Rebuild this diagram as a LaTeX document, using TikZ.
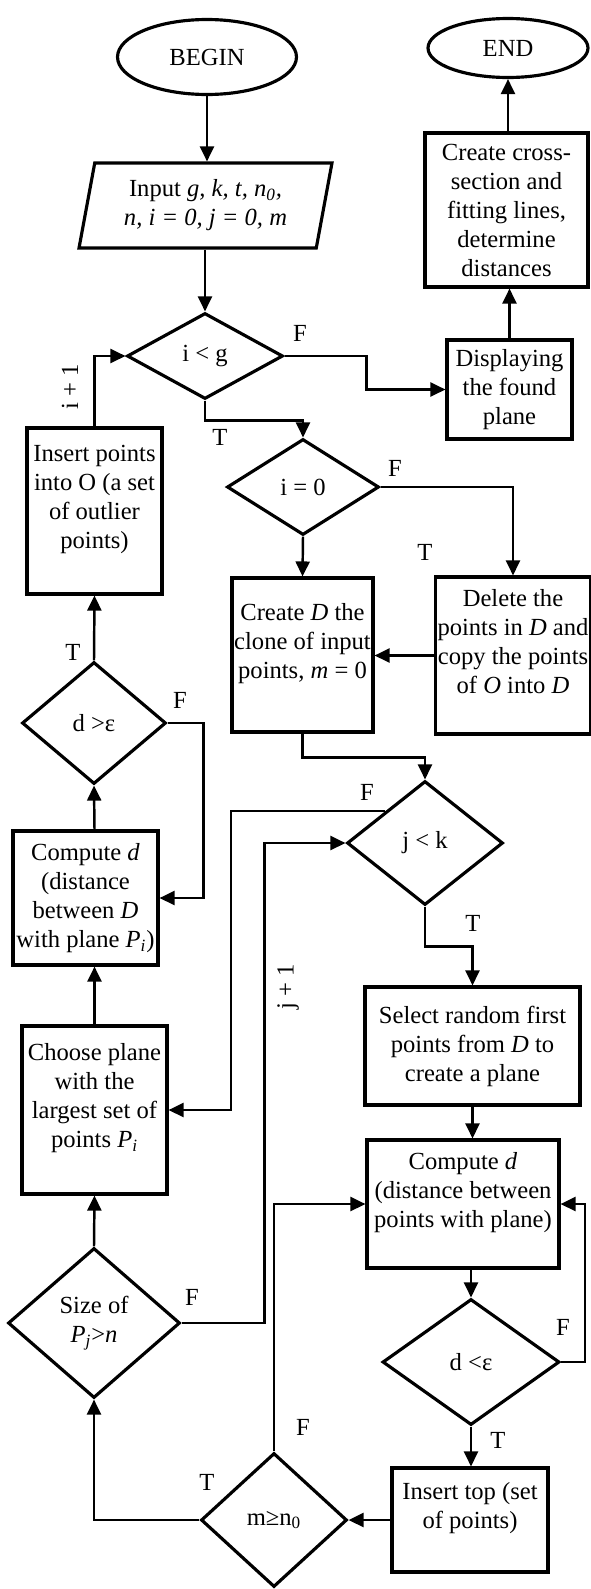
\documentclass[tikz,border=0pt]{standalone}
\usepackage{fontspec}
\setmainfont{Liberation Serif}
\usetikzlibrary{arrows.meta, positioning, shapes.geometric, calc}

\begin{document}
\begin{tikzpicture}[
    x=0.02cm, y=-0.02cm,
    font=\fontsize{14}{16.5}\selectfont,
    >={Triangle[length=0.3cm,width=0.28cm]},
    block/.style={
        rectangle,
        draw=black,
        line width=1.8pt,
        align=center,
        inner sep=1pt
    },
    decision/.style={
        diamond,
        draw=black,
        line width=1.8pt,
        align=center,
        inner sep=0pt,
        aspect=1.5
    },
    terminal/.style={
        ellipse,
        draw=black,
        line width=1.8pt
    },
    flow/.style={->, line width=1.4pt},
    lbl/.style={inner sep=0pt}
]
\useasboundingbox (0,0) rectangle (591,1589);

% Start, input and end
\node[terminal, minimum width=3.58cm, minimum height=1.5cm] (begin) at (207,57) {BEGIN};
\node[terminal, minimum width=3.2cm, minimum height=1.18cm] (stop) at (508,48) {END};
\node[trapezium, trapezium left angle=76, trapezium right angle=104, trapezium stretches body,
      draw=black, line width=1.8pt, align=center, minimum width=5.06cm, minimum height=1.7cm]
      (input) at (205.5,205.5) {Input \textit{g, k, t, n\textsubscript{0},}\\\textit{n, i = 0, j = 0, m}};

% Outer loop over i
\node[decision, minimum width=3.12cm, minimum height=1.72cm] (ilg) at (205,356) {i < g};
\node[block, minimum width=2.5cm, minimum height=1.98cm] (show) at (509.5,389.5) {Displaying\\the found\\plane};
\node[block, minimum width=3.26cm, minimum height=3.08cm] (cross) at (506.5,210) {Create cross-\\section and\\fitting lines,\\determine\\distances};
\node[decision, minimum width=3.04cm, minimum height=1.92cm] (iz) at (303,487) {i = 0};
\node[block, minimum width=2.7cm, minimum height=3.32cm] (outl) at (94.5,511) {Insert points\\into O (a set\\of outlier\\points)\\~};
\node[block, minimum width=2.82cm, minimum height=3.08cm] (clone) at (302.5,655) {Create \textit{D} the\\clone of input\\points, \textit{m} = 0\\~};
\node[block, minimum width=3cm, minimum height=3.14cm] (del) at (513,655.5) {Delete the\\points in \textit{D} and\\copy the points\\of \textit{O} into \textit{D}\\~};
\node[decision, minimum width=2.88cm, minimum height=2.44cm] (dge) at (94,723) {d >ε};
\node[block, minimum width=2.9cm, minimum height=2.68cm] (cmpl) at (85.5,898) {Compute \textit{d}\\(distance\\between \textit{D}\\with plane \textit{P\textsubscript{i}})};

% Inner loop over j
\node[decision, minimum width=3.12cm, minimum height=2.48cm] (jk) at (425,843) {j < k};
\node[block, minimum width=2.9cm, minimum height=3.36cm] (choose) at (94.5,1110) {Choose plane\\with the\\largest set of\\points \textit{P\textsubscript{i}}\\~};
\node[block, minimum width=4.3cm, minimum height=2.36cm] (sel) at (472.5,1046) {Select random first\\points from \textit{D} to\\create a plane};
\node[block, minimum width=3.84cm, minimum height=2.56cm] (cmpr) at (463,1204) {Compute \textit{d}\\(distance between\\points with plane)\\~};
\node[decision, minimum width=3.54cm, minimum height=2.52cm] (dlt) at (471,1362) {d <ε};
\node[block, minimum width=3.12cm, minimum height=2.08cm] (ins) at (470,1520) {Insert top (set\\of points)\\~};
\node[decision, minimum width=3.44cm, minimum height=3cm] (size) at (94,1323) {Size of\\\textit{P\textsubscript{j}}>\textit{n}};
\node[decision, minimum width=2.92cm, minimum height=2.68cm] (mgn) at (274,1520) {m≥n\textsubscript{0}};

% Branch labels
\node[lbl] (ilgF) at (300,333) {F};
\node[lbl] (ilgT) at (220,437) {T};
\node[lbl, rotate=90] (iinc) at (70,387) {i + 1};
\node[lbl] (izF) at (395,468) {F};
\node[lbl] (izT) at (425,552) {T};
\node[lbl] (dgeT) at (73,652) {T};
\node[lbl] (dgeF) at (180,700) {F};
\node[lbl] (jkF) at (367,792) {F};
\node[lbl] (jkT) at (473,923) {T};
\node[lbl, rotate=90] (jinc) at (288,987) {j + 1};
\node[lbl] (sizeF) at (192,1297) {F};
\node[lbl] (dltF) at (563,1327) {F};
\node[lbl] (dltT) at (498,1440) {T};
\node[lbl] (mgnF) at (303,1427) {F};
\node[lbl] (mgnT) at (207,1482) {T};

% Connectors
\draw[flow] (begin.south) -- (begin.south |- input.north);
\draw[flow] (ilg.north |- input.south) -- (ilg.north);
\draw[flow] (ilg.east) -- ++(82,0) |- (show.west);
\draw[flow] (show.north) -- (show.north |- cross.south);
\draw[flow] (stop.south |- cross.north) -- (stop.south);
\draw[flow] (ilg.south) -- ++(0,20) -| (iz.north);
\draw[flow] (iz.east) -| (del.north);
\draw[flow] (iz.south) -- (clone.north);
\draw[flow] (del.west) -- (del.west -| clone.east);
\draw[flow] (clone.south) -- ++(0,24) -| (jk.north);
\draw[flow] (jk.south) -- ++(0,40) -| (sel.north);
\draw[flow] (jk.north west) -- ++(-154,0) |- (choose.east);
\draw[flow] (sel.south) -- (sel.south |- cmpr.north);
\draw[flow] (dlt.north |- cmpr.south) -- (dlt.north);
\draw[flow] (dlt.east) -- ++(24,0) |- (cmpr.east);
\draw[flow] (dlt.south) -- (dlt.south |- ins.north);
\draw[flow] (ins.west) -- (ins.west -| mgn.east);
\draw[flow] (mgn.west) -| (size.south);
\draw[flow] (mgn.north) |- (cmpr.west);
\draw[flow] (size.east) -- ++(83,0) |- (jk.west);
\draw[flow] (size.north) -- (choose.south);
\draw[flow] (choose.north) -- (choose.north |- cmpl.south);
\draw[flow] (choose.north |- cmpl.north) -- (dge.south);
\draw[flow] (dge.east) -- ++(36,0) |- (cmpl.east);
\draw[flow] (dge.north) -- (outl.south);
\draw[flow] (outl.north) |- (ilg.west);

\end{tikzpicture}
\end{document}
